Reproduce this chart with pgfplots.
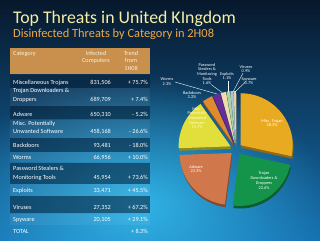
\documentclass[border=0pt]{standalone}
\usepackage{pgfplots}
\pgfplotsset{compat=1.18}
\usepackage{pgfplotstable}
\usepackage{fontspec}
\setmainfont{Carlito}
\usetikzlibrary{fadings}
\tikzfading[name=glowfade, inner color=transparent!0, outer color=transparent!100]

\definecolor{bgtop}{HTML}{07182C}
\definecolor{bgbot}{HTML}{1670B0}
\definecolor{glow}{HTML}{34BCEE}
\definecolor{titlecol}{HTML}{F4F0A8}
\definecolor{subcol}{HTML}{F0A848}
\definecolor{headcol}{HTML}{C8904C}
\definecolor{headtxt}{HTML}{F8F0E0}
\definecolor{rowdark}{HTML}{082038}
\definecolor{pc0}{HTML}{E8AA20}
\definecolor{pc1}{HTML}{14944A}
\definecolor{pc2}{HTML}{D0784C}
\definecolor{pc3}{HTML}{E2DE3C}
\definecolor{pc4}{HTML}{E08A30}
\definecolor{pc5}{HTML}{6A2C9A}
\definecolor{pc6}{HTML}{F2DCA8}
\definecolor{pc7}{HTML}{A8D4A0}
\definecolor{pc8}{HTML}{A8C4DC}
\definecolor{pc9}{HTML}{E8D0A8}

% share of disinfected threats (%)
\pgfplotstableread{
idx pct
0 28.3
1 23.6
2 22.3
3 15.7
4 3.2
5 2.3
6 1.6
7 1.1
8 0.9
9 0.7
}\piedata

\def\cum{0}
\pgfplotsforeachungrouped \i in {0,...,9}{%
  \pgfplotstablegetelem{\i}{pct}\of\piedata
  \pgfmathsetmacro\sa{90-\cum/99.7*360}%
  \pgfmathsetmacro\cumn{\cum+\pgfplotsretval}%
  \pgfmathsetmacro\ea{90-\cumn/99.7*360}%
  \pgfmathsetmacro\md{(\sa+\ea)/2}%
  \expandafter\xdef\csname sa\i\endcsname{\sa}%
  \expandafter\xdef\csname ea\i\endcsname{\ea}%
  \expandafter\xdef\csname md\i\endcsname{\md}%
  \xdef\cum{\cumn}%
}

\newcommand\tf{\fontsize{6.2}{7.4}\selectfont}
\newcommand\lf{\fontsize{4.3}{4.7}\selectfont}

\begin{document}
\begin{tikzpicture}
\begin{axis}[x=1pt,y=1pt,xmin=0,xmax=320,ymin=0,ymax=240,y dir=reverse,
  hide axis,clip=false]
% background
\shade[top color=bgtop,bottom color=bgbot] (axis cs:0,0) rectangle (axis cs:320,240);
\fill[glow,path fading=glowfade,opacity=0.9] (axis cs:140,205) ellipse [x radius=190pt,y radius=130pt];

% titles
\node[anchor=base west,inner sep=0pt,text=titlecol,font=\fontsize{17.8}{20}\selectfont] at (axis cs:13,24) {Top Threats in United KIngdom};
\node[anchor=base west,inner sep=0pt,text=subcol,font=\fontsize{12.4}{14}\selectfont] at (axis cs:13,37.5) {Disinfected Threats by Category in 2H08};

% table
\fill[headcol] (axis cs:10,48) rectangle (axis cs:150,74);
\fill[rowdark,opacity=0.55] (axis cs:10,75) rectangle (axis cs:150,87.5);
\fill[rowdark,opacity=0.55] (axis cs:10,106) rectangle (axis cs:150,119);
\fill[rowdark,opacity=0.55] (axis cs:10,138) rectangle (axis cs:150,151.5);
\fill[rowdark,opacity=0.55] (axis cs:10,162.5) rectangle (axis cs:150,183.5);
\fill[rowdark,opacity=0.55] (axis cs:10,196) rectangle (axis cs:150,213);
\fill[white,opacity=0.06] (axis cs:10,88) rectangle (axis cs:150,105.5);
\fill[white,opacity=0.06] (axis cs:10,119.5) rectangle (axis cs:150,137.5);
\fill[white,opacity=0.06] (axis cs:10,152) rectangle (axis cs:150,162);
\fill[white,opacity=0.06] (axis cs:10,184) rectangle (axis cs:150,195.5);
\fill[white,opacity=0.06] (axis cs:10,213.5) rectangle (axis cs:150,225);

\begin{scope}[every node/.style={inner sep=0pt,font=\tf,text=headtxt}]
\node[anchor=base west] at (axis cs:13,55.5) {Category};
\node[anchor=base] at (axis cs:96,55.5) {Infected};
\node[anchor=base] at (axis cs:96,63) {Computers};
\node[anchor=base] at (axis cs:131,55.5) {Trend};
\node[anchor=base] at (axis cs:131,63) {from};
\node[anchor=base] at (axis cs:131,70.5) {1H08};
\end{scope}

\begin{scope}[every node/.style={inner sep=0pt,font=\tf,text=white}]
\node[anchor=base west] at (axis cs:13,84) {Miscellaneous Trojans};
\node[anchor=base east] at (axis cs:111,84) {831,506};
\node[anchor=base east] at (axis cs:148,84) {+ 75.7\%};
\node[anchor=base west] at (axis cs:13,92.5) {Trojan Downloaders \&};
\node[anchor=base west] at (axis cs:13,101) {Droppers};
\node[anchor=base east] at (axis cs:111,101) {689,709};
\node[anchor=base east] at (axis cs:148,101) {+ 7.4\%};
\node[anchor=base west] at (axis cs:13,116) {Adware};
\node[anchor=base east] at (axis cs:111,116) {650,310};
\node[anchor=base east] at (axis cs:148,116) {- 5.2\%};
\node[anchor=base west] at (axis cs:13,125) {Misc. Potentially};
\node[anchor=base west] at (axis cs:13,133) {Unwanted Software};
\node[anchor=base east] at (axis cs:111,133) {458,168};
\node[anchor=base east] at (axis cs:148,133) {- 26.6\%};
\node[anchor=base west] at (axis cs:13,147) {Backdoors};
\node[anchor=base east] at (axis cs:111,147) {93,481};
\node[anchor=base east] at (axis cs:148,147) {- 18.0\%};
\node[anchor=base west] at (axis cs:13,159) {Worms};
\node[anchor=base east] at (axis cs:111,159) {66,956};
\node[anchor=base east] at (axis cs:148,159) {+ 10.0\%};
\node[anchor=base west] at (axis cs:13,170) {Password Stealers \&};
\node[anchor=base west] at (axis cs:13,179.5) {Monitoring Tools};
\node[anchor=base east] at (axis cs:111,179.5) {45,954};
\node[anchor=base east] at (axis cs:148,179.5) {+ 73.6\%};
\node[anchor=base west] at (axis cs:13,192) {Exploits};
\node[anchor=base east] at (axis cs:111,192) {33,471};
\node[anchor=base east] at (axis cs:148,192) {+ 45.5\%};
\node[anchor=base west] at (axis cs:13,209) {Viruses};
\node[anchor=base east] at (axis cs:111,209) {27,352};
\node[anchor=base east] at (axis cs:148,209) {+ 67.2\%};
\node[anchor=base west] at (axis cs:13,221) {Spyware};
\node[anchor=base east] at (axis cs:111,221) {20,105};
\node[anchor=base east] at (axis cs:148,221) {+ 29.1\%};
\node[anchor=base west] at (axis cs:13,233) {TOTAL};
\node[anchor=base east] at (axis cs:148,233) {+ 8.3\%};
\end{scope}

% pie: depth
\pgfplotsinvokeforeach{0,...,9}{
  \fill[pc#1!62!black] ([xshift=0.7pt,yshift=-2.6pt]axis cs:236,149) ++(\csname md#1\endcsname:6pt)
    -- ++(\csname sa#1\endcsname:52pt)
    arc[start angle=\csname sa#1\endcsname,end angle=\csname ea#1\endcsname,radius=52pt] -- cycle;
}
% pie: top faces
\pgfplotsinvokeforeach{0,...,9}{
  \fill[pc#1] (axis cs:236,149) ++(\csname md#1\endcsname:6pt)
    -- ++(\csname sa#1\endcsname:52pt)
    arc[start angle=\csname sa#1\endcsname,end angle=\csname ea#1\endcsname,radius=52pt] -- cycle;
}

% leader lines
\begin{scope}[white,line width=0.35pt]
\draw (axis cs:175,82) -- (axis cs:217,94);
\draw (axis cs:211,84.5) -- (axis cs:222,92.5);
\draw (axis cs:228,81) -- (axis cs:228,92);
\draw (axis cs:243,73) -- (axis cs:233,92);
\draw (axis cs:246,81.5) -- (axis cs:235,92);
\end{scope}

% pie labels
\begin{scope}[every node/.style={inner sep=0pt,font=\lf,text=white,align=center}]
\node at (axis cs:272,123) {Misc. Trojan\\28.3\%};
\node at (axis cs:264,180.5) {Trojan\\Downloaders \&\\Droppers\\23.6\%};
\node at (axis cs:196,169) {Adware\\22.3\%};
\node[text=white!85!yellow] at (axis cs:197,118) {Misc.\\Potentially\\Unwanted\\Software\\15.7\%};
\node at (axis cs:207,74) {Password\\Stealers \&\\Monitoring\\Tools\\1.6\%};
\node at (axis cs:227,76) {Exploits\\1.1\%};
\node at (axis cs:246,69) {Viruses\\0.9\%};
\node at (axis cs:249,81) {Spyware\\0.7\%};
\node at (axis cs:167,81.5) {Worms\\2.3\%};
\node at (axis cs:192,95) {Backdoors\\3.2\%};
\end{scope}
\end{axis}
\pgfresetboundingbox
\path (current axis.south west) rectangle (current axis.north east);
\end{tikzpicture}
\end{document}
